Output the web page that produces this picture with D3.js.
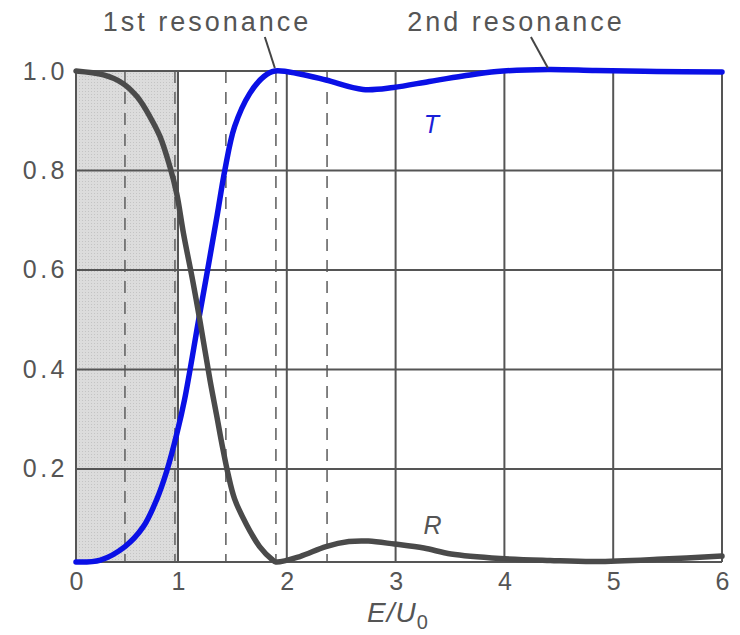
<!DOCTYPE html>
<html>
<head>
<meta charset="utf-8">
<script src="https://cdn.jsdelivr.net/npm/d3@7"></script>
<style>
  html, body { margin: 0; padding: 0; background: #fff; }
  svg { display: block; }
  text { font-family: "Liberation Sans", Arial, Helvetica, sans-serif; }
</style>
</head>
<body>
<svg id="chart" width="740" height="635"></svg>
<script>
// ---- data ----
const xTicks = [0, 1, 2, 3, 4, 5, 6];
const yTicks = [0.2, 0.4, 0.6, 0.8, 1.0];
const yTickLabels = ["0.2", "0.4", "0.6", "0.8", "1.0"];
const dashedE = [0.48, 0.97, 1.44, 1.90, 2.37];
const shadedRange = [0, 1];

const tE = [0, 0.24, 0.48, 0.66, 0.79, 0.89, 0.99, 1.06, 1.19, 1.28, 1.36, 1.43, 1.52, 1.66, 1.79, 1.89, 2.12, 2.36, 2.70, 2.98, 3.31, 3.62, 3.93, 4.40, 4.84, 5.40, 6.0];
const tVal = [0.013, 0.017, 0.044, 0.084, 0.138, 0.196, 0.272, 0.339, 0.5, 0.61, 0.71, 0.80, 0.888, 0.955, 0.989, 1.0, 0.994, 0.982, 0.963, 0.967, 0.979, 0.99, 0.999, 1.003, 1.001, 0.999, 0.998];

const rE = [0, 0.27, 0.46, 0.60, 0.725, 0.824, 0.92, 0.987, 1.05, 1.14, 1.20, 1.294, 1.355, 1.41, 1.46, 1.52, 1.63, 1.75, 1.87, 1.90, 2.12, 2.36, 2.57, 2.75, 2.99, 3.26, 3.51, 3.96, 4.42, 4.84, 5.46, 6.0];
const rVal = [1.0, 0.992, 0.975, 0.948, 0.908, 0.868, 0.808, 0.754, 0.674, 0.573, 0.5, 0.379, 0.308, 0.243, 0.19, 0.14, 0.088, 0.044, 0.017, 0.013, 0.024, 0.044, 0.054, 0.055, 0.049, 0.041, 0.029, 0.02, 0.016, 0.014, 0.019, 0.025];

const resonanceLabels = ["1st resonance", "2nd resonance"];
const resonanceE = [1.89, 4.40];

// ---- scales ----
const svg = d3.select("#chart");
const x = d3.scaleLinear().domain([0, 1, 6]).range([76, 178, 722]);
const y = d3.scaleLinear().domain([0.013, 1.0]).range([562, 71]);
const yMin = y.domain()[0], yMax = 1.0;

const gridColor = "#555";
const textColor = "#555";

// shaded region
const defs = svg.append("defs");
const pat = defs.append("pattern").attr("id", "stip").attr("width", 3).attr("height", 3)
  .attr("patternUnits", "userSpaceOnUse");
pat.append("rect").attr("width", 3).attr("height", 3).attr("fill", "#dcdcdc");
pat.append("rect").attr("x", 1).attr("y", 1).attr("width", 1).attr("height", 1).attr("fill", "#c4c4c4");

svg.append("rect")
  .attr("x", x(shadedRange[0])).attr("y", y(yMax))
  .attr("width", x(shadedRange[1]) - x(shadedRange[0]))
  .attr("height", y(yMin) - y(yMax))
  .attr("fill", "url(#stip)");

// dashed lines
svg.append("g").selectAll("line").data(dashedE).join("line")
  .attr("x1", d => x(d)).attr("x2", d => x(d))
  .attr("y1", y(yMax)).attr("y2", y(yMin))
  .attr("stroke", "#666").attr("stroke-width", 1.6)
  .attr("stroke-dasharray", "12,9");

// grid
const g = svg.append("g");
g.selectAll("line.v").data(xTicks).join("line").attr("class", "v")
  .attr("x1", d => x(d)).attr("x2", d => x(d))
  .attr("y1", y(yMax)).attr("y2", y(yMin))
  .attr("stroke", gridColor).attr("stroke-width", 2);
g.selectAll("line.h").data(yTicks).join("line").attr("class", "h")
  .attr("x1", x(0)).attr("x2", x(6))
  .attr("y1", d => y(d)).attr("y2", d => y(d))
  .attr("stroke", gridColor).attr("stroke-width", 2);
g.append("line").attr("x1", x(0)).attr("x2", x(6))
  .attr("y1", y(yMin)).attr("y2", y(yMin))
  .attr("stroke", gridColor).attr("stroke-width", 2);

// axes labels (using d3 axes, then styling)
const xAxis = d3.axisBottom(x).tickValues(xTicks).tickSize(0).tickPadding(10).tickFormat(d3.format("d"));
svg.append("g").attr("transform", `translate(0,${y(yMin)})`).call(xAxis)
  .call(a => a.select(".domain").remove())
  .selectAll("text").attr("font-size", 25).attr("fill", textColor)
  .attr("font-family", "Liberation Sans, Arial, sans-serif");

const yAxis = d3.axisLeft(y).tickValues(yTicks).tickSize(0).tickPadding(8)
  .tickFormat((d, i) => yTickLabels[i]);
svg.append("g").attr("transform", `translate(${x(0)},0)`).call(yAxis)
  .call(a => a.select(".domain").remove())
  .selectAll("text").attr("font-size", 25).attr("letter-spacing", 3.5).attr("fill", textColor)
  .attr("font-family", "Liberation Sans, Arial, sans-serif");

// curves
const line = d3.line().x(d => x(d[0])).y(d => y(d[1])).curve(d3.curveCatmullRom.alpha(0.5));
svg.append("path").datum(tE.map((e, i) => [e, tVal[i]]))
  .attr("d", line).attr("fill", "none")
  .attr("stroke", "#0a10e6").attr("stroke-width", 5.5).attr("stroke-linecap", "round");
svg.append("path").datum(rE.map((e, i) => [e, rVal[i]]))
  .attr("d", line).attr("fill", "none")
  .attr("stroke", "#4a4a4a").attr("stroke-width", 5.5).attr("stroke-linecap", "round");

// curve labels
svg.append("text").attr("x", x(3.33)).attr("y", 133).attr("text-anchor", "middle")
  .attr("font-size", 25).attr("font-style", "italic").attr("fill", "#1a20d8").text("T");
svg.append("text").attr("x", x(3.34)).attr("y", 534).attr("text-anchor", "middle")
  .attr("font-size", 25).attr("font-style", "italic").attr("fill", textColor).text("R");

// resonance annotations
const labelX = [207, 516];
resonanceLabels.forEach((lab, i) => {
  svg.append("text").attr("x", labelX[i]).attr("y", 31).attr("text-anchor", "middle")
    .attr("font-size", 27).attr("letter-spacing", 3).attr("fill", textColor).text(lab);
  const ex = x(resonanceE[i]);
  svg.append("line")
    .attr("x1", ex - (i === 0 ? 10 : 17)).attr("y1", 37)
    .attr("x2", ex).attr("y2", y(1.0) - 3)
    .attr("stroke", "#444").attr("stroke-width", 2);
});

// x-axis title
const title = svg.append("text").attr("x", 398).attr("y", 622).attr("text-anchor", "middle")
  .attr("font-size", 28).attr("letter-spacing", 1).attr("fill", textColor);
title.append("tspan").attr("font-style", "italic").text("E/U");
title.append("tspan").attr("font-size", 20).attr("dy", 7).text("0");
</script>
</body>
</html>
